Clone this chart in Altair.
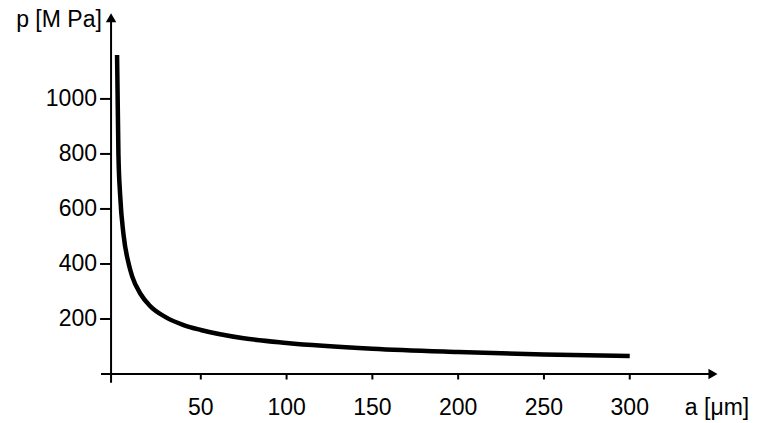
import altair as alt
import pandas as pd

a_vals = [1.2, 2, 3, 5, 8, 10, 15, 20, 30, 40, 50, 75, 100, 150, 200, 250, 300]
p_vals = [1160, 800, 650, 505, 400, 355, 290, 250, 205, 178, 160, 130, 113, 92, 80, 71, 65]
x_ticks = [50, 100, 150, 200, 250, 300]
y_ticks = [200, 400, 600, 800, 1000]

FONT = "Liberation Sans"
FS = 23
xs = alt.Scale(domain=[-8.16, 352.6], nice=False, zero=False)
ys = alt.Scale(domain=[-21.8, 1316], nice=False, zero=False)

curve_df = pd.DataFrame({"a": a_vals, "p": p_vals})
curve = alt.Chart(curve_df).mark_line(color="black", strokeWidth=4.5, interpolate="monotone").encode(
    x=alt.X("a:Q", scale=xs, axis=None), y=alt.Y("p:Q", scale=ys, axis=None))

xaxis = alt.Chart(pd.DataFrame({"a": [-8.16], "a2": [347], "p": [0]})).mark_rule(color="black", strokeWidth=2).encode(
    x=alt.X("a:Q", scale=xs), x2="a2", y=alt.Y("p:Q", scale=ys))
yaxis = alt.Chart(pd.DataFrame({"a": [-2.3], "p": [-32], "p2": [1290]})).mark_rule(color="black", strokeWidth=2).encode(
    x=alt.X("a:Q", scale=xs), y=alt.Y("p:Q", scale=ys), y2="p2")
xarrow = alt.Chart(pd.DataFrame({"a": [348.5], "p": [0]})).mark_point(shape="triangle-right", filled=True, color="black", opacity=1, size=110).encode(
    x=alt.X("a:Q", scale=xs), y=alt.Y("p:Q", scale=ys))
yarrow = alt.Chart(pd.DataFrame({"a": [-2.3], "p": [1295]})).mark_point(shape="triangle-up", filled=True, color="black", opacity=1, size=110).encode(
    x=alt.X("a:Q", scale=xs), y=alt.Y("p:Q", scale=ys))

xt_df = pd.DataFrame({"a": x_ticks, "p": [0] * len(x_ticks), "p2": [-20] * len(x_ticks)})
xtick = alt.Chart(xt_df).mark_rule(color="black", strokeWidth=2).encode(
    x=alt.X("a:Q", scale=xs), y=alt.Y("p:Q", scale=ys), y2="p2")
xlab = alt.Chart(xt_df).mark_text(font=FONT, fontSize=FS, baseline="middle", align="center").encode(
    x=alt.X("a:Q", scale=xs), y=alt.value(396), text="a:Q")

yt_df = pd.DataFrame({"a": [-8.7] * len(y_ticks), "a2": [-2.3] * len(y_ticks), "p": y_ticks})
ytick = alt.Chart(yt_df).mark_rule(color="black", strokeWidth=2).encode(
    x=alt.X("a:Q", scale=xs), x2="a2", y=alt.Y("p:Q", scale=ys))
ylab = alt.Chart(yt_df).mark_text(font=FONT, fontSize=FS, baseline="middle", align="right").encode(
    x=alt.value(-4), y=alt.Y("p:Q", scale=ys), text="p:Q")

titles = alt.Chart(pd.DataFrame({"t": ["p [M Pa]", "a [μm]"], "x": [-42, 616], "y": [8, 396]})).mark_text(
    font=FONT, fontSize=FS, baseline="middle", align="center").encode(
    x=alt.X("x:Q", scale=None), y=alt.Y("y:Q", scale=None), text="t:N")

chart = alt.layer(curve, xaxis, yaxis, xarrow, yarrow, xtick, xlab, ytick, ylab, titles).properties(
    width=619, height=368, autosize=alt.AutoSizeParams(type="none"),
    padding={"left": 93, "top": 4, "right": 40, "bottom": 42}, background="white"
).configure_view(stroke=None)

chart.save("out.html", embed_options={"renderer": "svg", "actions": False})
